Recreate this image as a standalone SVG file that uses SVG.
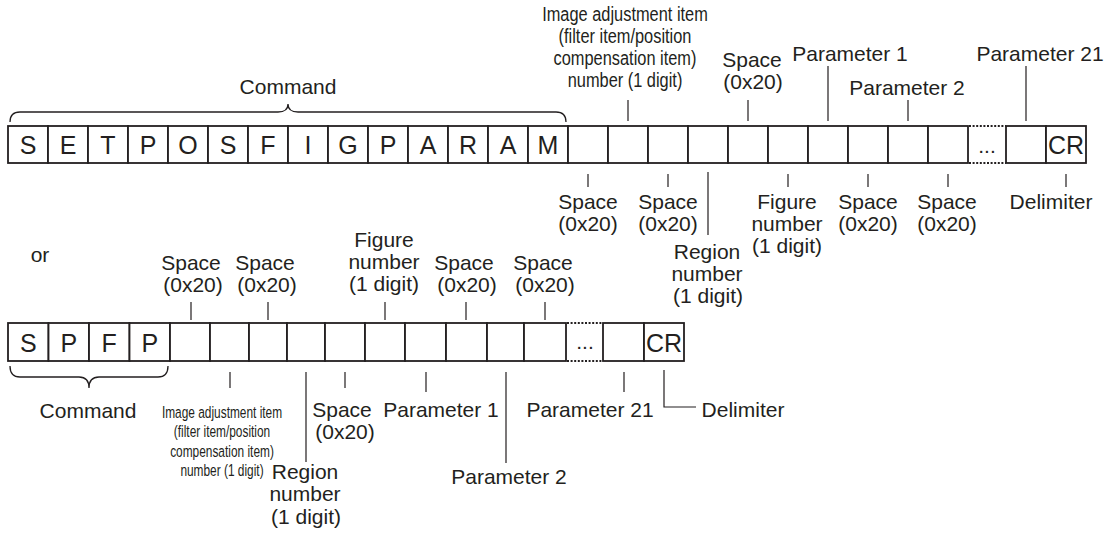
<svg xmlns="http://www.w3.org/2000/svg" width="1106" height="535" viewBox="0 0 1106 535">
<style>
.cell{fill:#fff;stroke:#231f20;stroke-width:1.8}
.dot{fill:none;stroke:#231f20;stroke-width:2;stroke-dasharray:2 1.6}
.tick{fill:none;stroke:#231f20;stroke-width:1.2}
.brace{fill:none;stroke:#231f20;stroke-width:1.3}
text{font-family:"Liberation Sans",Arial,Helvetica,sans-serif;fill:#231f20;text-anchor:middle}
.lbl{font-size:21px}
.ch{font-size:25px}
.cond{font-size:21px}
.cond2{font-size:17px}
</style>
<rect width="1106" height="535" fill="#fff"/>

<!-- top row -->
<g id="top-row">
  <g id="t0"><rect class="cell" x="8" y="126" width="40" height="37"/><text class="ch" x="28" y="153.5">S</text></g>
  <g id="t1"><rect class="cell" x="48" y="126" width="40" height="37"/><text class="ch" x="68" y="153.5">E</text></g>
  <g id="t2"><rect class="cell" x="88" y="126" width="40" height="37"/><text class="ch" x="108" y="153.5">T</text></g>
  <g id="t3"><rect class="cell" x="128" y="126" width="40" height="37"/><text class="ch" x="148" y="153.5">P</text></g>
  <g id="t4"><rect class="cell" x="168" y="126" width="40" height="37"/><text class="ch" x="188" y="153.5">O</text></g>
  <g id="t5"><rect class="cell" x="208" y="126" width="40" height="37"/><text class="ch" x="228" y="153.5">S</text></g>
  <g id="t6"><rect class="cell" x="248" y="126" width="40" height="37"/><text class="ch" x="268" y="153.5">F</text></g>
  <g id="t7"><rect class="cell" x="288" y="126" width="40" height="37"/><text class="ch" x="308" y="153.5">I</text></g>
  <g id="t8"><rect class="cell" x="328" y="126" width="40" height="37"/><text class="ch" x="348" y="153.5">G</text></g>
  <g id="t9"><rect class="cell" x="368" y="126" width="40" height="37"/><text class="ch" x="388" y="153.5">P</text></g>
  <g id="t10"><rect class="cell" x="408" y="126" width="40" height="37"/><text class="ch" x="428" y="153.5">A</text></g>
  <g id="t11"><rect class="cell" x="448" y="126" width="40" height="37"/><text class="ch" x="468" y="153.5">R</text></g>
  <g id="t12"><rect class="cell" x="488" y="126" width="40" height="37"/><text class="ch" x="508" y="153.5">A</text></g>
  <g id="t13"><rect class="cell" x="528" y="126" width="40" height="37"/><text class="ch" x="548" y="153.5">M</text></g>
  <g id="t14"><rect class="cell" x="568" y="126" width="40" height="37"/></g>
  <g id="t15"><rect class="cell" x="608" y="126" width="40" height="37"/></g>
  <g id="t16"><rect class="cell" x="648" y="126" width="40" height="37"/></g>
  <g id="t17"><rect class="cell" x="688" y="126" width="40" height="37"/></g>
  <g id="t18"><rect class="cell" x="728" y="126" width="40" height="37"/></g>
  <g id="t19"><rect class="cell" x="768" y="126" width="40" height="37"/></g>
  <g id="t20"><rect class="cell" x="808" y="126" width="40" height="37"/></g>
  <g id="t21"><rect class="cell" x="848" y="126" width="40" height="37"/></g>
  <g id="t22"><rect class="cell" x="888" y="126" width="40" height="37"/></g>
  <g id="t23"><rect class="cell" x="928" y="126" width="40" height="37"/></g>
  <g id="t-gap"><path class="dot" d="M969,126 H1006 M969,163 H1006"/><text class="lbl" x="987" y="153">...</text></g>
  <g id="t24"><rect class="cell" x="1006" y="126" width="40" height="37"/></g>
  <g id="t25"><rect class="cell" x="1046" y="126" width="40" height="37"/><text class="ch" x="1066" y="153.5">CR</text></g>
</g>

<!-- bottom row -->
<g id="bottom-row">
  <g id="b0"><rect class="cell" x="8" y="323" width="40.5" height="38"/><text class="ch" x="28.25" y="352">S</text></g>
  <g id="b1"><rect class="cell" x="48.5" y="323" width="40.5" height="38"/><text class="ch" x="68.75" y="352">P</text></g>
  <g id="b2"><rect class="cell" x="89" y="323" width="40.5" height="38"/><text class="ch" x="109.25" y="352">F</text></g>
  <g id="b3"><rect class="cell" x="129.5" y="323" width="40.5" height="38"/><text class="ch" x="149.75" y="352">P</text></g>
  <g id="b4"><rect class="cell" x="170" y="323" width="40" height="38"/></g>
  <g id="b5"><rect class="cell" x="210" y="323" width="39" height="38"/></g>
  <g id="b6"><rect class="cell" x="249" y="323" width="38" height="38"/></g>
  <g id="b7"><rect class="cell" x="287" y="323" width="38" height="38"/></g>
  <g id="b8"><rect class="cell" x="325" y="323" width="40" height="38"/></g>
  <g id="b9"><rect class="cell" x="365" y="323" width="40" height="38"/></g>
  <g id="b10"><rect class="cell" x="405" y="323" width="41" height="38"/></g>
  <g id="b11"><rect class="cell" x="446" y="323" width="41" height="38"/></g>
  <g id="b12"><rect class="cell" x="487" y="323" width="37" height="38"/></g>
  <g id="b13"><rect class="cell" x="524" y="323" width="42" height="38"/></g>
  <g id="b-gap"><path class="dot" d="M567,323 H603 M567,361 H603"/><text class="lbl" x="585" y="349">...</text></g>
  <g id="b14"><rect class="cell" x="603" y="323" width="41" height="38"/></g>
  <g id="b15"><rect class="cell" x="644" y="323" width="40" height="38"/><text class="ch" x="664" y="352">CR</text></g>
</g>

<!-- connectors -->
<g id="connectors">
  <path class="brace" d="M10,122 Q10,112 20,112 L278,112 Q288,112 288,104 Q288,112 298,112 L556,112 Q566,112 566,122"/>
  <path class="brace" d="M10,366 Q10,377 20,377 L79,377 Q89,377 89,388 Q89,377 99,377 L158,377 Q168,377 168,366"/>
  <path class="tick" d="M628,100 V121 M748,100 V121 M828,66 V121 M908,100 V121 M1026,66 V121"/>
  <path class="tick" d="M588,174 V187 M668,174 V187 M708,172 V235 M788,174 V187 M868,174 V187 M948,174 V187 M1066,174 V187"/>
  <path class="tick" d="M191,302 V320 M268,302 V320 M385,302 V320 M466,302 V320 M545,302 V320"/>
  <path class="tick" d="M230,372 V388 M306,372 V462 M345,372 V388 M426,372 V392 M506,372 V463 M624,372 V392"/>
  <path class="tick" d="M664,370 V407 H696"/>
</g>

<!-- top labels -->
<g id="lbl-top-command"><text class="lbl" x="288" y="94">Command</text></g>
<g id="lbl-top-imgadj" transform="translate(625 0) scale(0.78 1)">
  <text class="cond" x="0" y="21">Image adjustment item</text>
  <text class="cond" x="0" y="43">(filter item/position</text>
  <text class="cond" x="0" y="65">compensation item)</text>
  <text class="cond" x="0" y="87">number (1 digit)</text>
</g>
<g id="lbl-top-space-a"><text class="lbl" x="752" y="67">Space</text><text class="lbl" x="753" y="89">(0x20)</text></g>
<g id="lbl-top-param1"><text class="lbl" x="850" y="61">Parameter 1</text></g>
<g id="lbl-top-param2"><text class="lbl" x="907" y="95">Parameter 2</text></g>
<g id="lbl-top-param21"><text class="lbl" x="1040" y="61">Parameter 21</text></g>
<g id="lbl-top-space-b1"><text class="lbl" x="588" y="209">Space</text><text class="lbl" x="588" y="231">(0x20)</text></g>
<g id="lbl-top-space-b2"><text class="lbl" x="668" y="209">Space</text><text class="lbl" x="668" y="231">(0x20)</text></g>
<g id="lbl-top-region"><text class="lbl" x="707" y="259">Region</text><text class="lbl" x="707" y="281">number</text><text class="lbl" x="708" y="303">(1 digit)</text></g>
<g id="lbl-top-figure"><text class="lbl" x="787" y="209">Figure</text><text class="lbl" x="787" y="231">number</text><text class="lbl" x="787" y="253">(1 digit)</text></g>
<g id="lbl-top-space-b3"><text class="lbl" x="868" y="209">Space</text><text class="lbl" x="868" y="231">(0x20)</text></g>
<g id="lbl-top-space-b4"><text class="lbl" x="947" y="209">Space</text><text class="lbl" x="947" y="231">(0x20)</text></g>
<g id="lbl-top-delim"><text class="lbl" x="1051" y="209">Delimiter</text></g>

<g id="lbl-or"><text class="lbl" x="40" y="262">or</text></g>

<!-- bottom labels -->
<g id="lbl-bot-space-a1"><text class="lbl" x="191" y="270">Space</text><text class="lbl" x="193" y="292">(0x20)</text></g>
<g id="lbl-bot-space-a2"><text class="lbl" x="265" y="270">Space</text><text class="lbl" x="267" y="292">(0x20)</text></g>
<g id="lbl-bot-figure"><text class="lbl" x="384" y="247">Figure</text><text class="lbl" x="384" y="269">number</text><text class="lbl" x="384" y="291">(1 digit)</text></g>
<g id="lbl-bot-space-a3"><text class="lbl" x="464" y="270">Space</text><text class="lbl" x="467" y="292">(0x20)</text></g>
<g id="lbl-bot-space-a4"><text class="lbl" x="543" y="270">Space</text><text class="lbl" x="545" y="292">(0x20)</text></g>
<g id="lbl-bot-command"><text class="lbl" x="88" y="418">Command</text></g>
<g id="lbl-bot-imgadj" transform="translate(222 0) scale(0.7 1)">
  <text class="cond2" x="0" y="418">Image adjustment item</text>
  <text class="cond2" x="0" y="437.5">(filter item/position</text>
  <text class="cond2" x="0" y="457">compensation item)</text>
  <text class="cond2" x="0" y="476.5">number (1 digit)</text>
</g>
<g id="lbl-bot-region"><text class="lbl" x="305" y="479">Region</text><text class="lbl" x="305" y="501">number</text><text class="lbl" x="306" y="524">(1 digit)</text></g>
<g id="lbl-bot-space"><text class="lbl" x="342" y="417">Space</text><text class="lbl" x="345" y="439">(0x20)</text></g>
<g id="lbl-bot-param1"><text class="lbl" x="441" y="417">Parameter 1</text></g>
<g id="lbl-bot-param2"><text class="lbl" x="509" y="484">Parameter 2</text></g>
<g id="lbl-bot-param21"><text class="lbl" x="590" y="417">Parameter 21</text></g>
<g id="lbl-bot-delim"><text class="lbl" x="743" y="417">Delimiter</text></g>
</svg>
